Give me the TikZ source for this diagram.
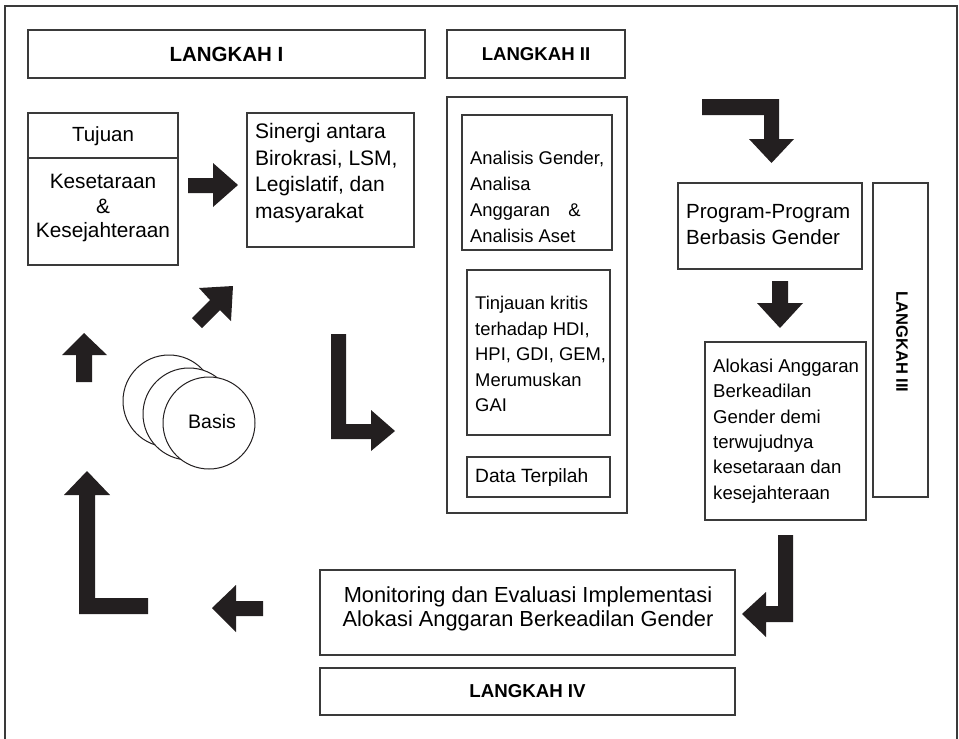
\documentclass[tikz,border=0pt]{standalone}
\usepackage{fontspec}
\setmainfont{Liberation Sans}
\definecolor{ink}{HTML}{231F20}
\definecolor{frame}{HTML}{3A3A3A}
\newcommand\fs{\fontsize{19.5}{25.5}\selectfont}
\newcommand\fsz[2]{\fontsize{#1}{#2}\selectfont}
\newcommand\mkbox[5]{\node[box, minimum width={(#4-#2)*1pt}, minimum height={(#5-#3)*1pt}] (#1) at ({(#2+#4)/2},{(#3+#5)/2}) {};}
\tikzset{
  box/.style={draw=frame, line width=1.3pt, inner sep=0pt, outer sep=0pt, fill=white},
  txt/.style={inner sep=0pt, align=left, anchor=west},
  ctxt/.style={inner sep=0pt, align=center},
  head/.style={inner sep=0pt},
  arr/.style={fill=ink, draw=none},
  disc/.style={circle, draw=ink, line width=1pt, fill=white, minimum size=92pt, inner sep=0pt},
}
\begin{document}
\begin{tikzpicture}[x=1pt,y=-1pt]
\useasboundingbox (0,0) rectangle (959,739);
\draw[frame, line width=1.3pt] (5,6) rectangle (957,742);

% boxes
\mkbox{l1}{28}{30}{425}{78}
\mkbox{l2}{447}{30}{625}{78}
\mkbox{col}{447}{97}{627}{513}
\mkbox{tuj}{28}{113}{178}{265}
\draw[frame, line width=1.3pt] (28,158) -- (178,158);
\mkbox{sin}{247}{113}{414}{247}
\mkbox{ana}{462}{115}{612}{250}
\mkbox{tin}{467}{270}{610}{435}
\mkbox{dat}{467}{457}{610}{497}
\mkbox{prg}{678}{183}{862}{269}
\mkbox{l3}{873}{183}{928}{497}
\mkbox{alo}{705}{342}{866}{520}
\mkbox{mon}{320}{570}{735}{655}
\mkbox{l4}{320}{668}{735}{715}

% texts
\node[head, font=\fsz{20.5}{25}\bfseries] (t1) at (l1) {LANGKAH I};
\node[head, font=\fsz{18.6}{25}\bfseries] (t2) at (l2) {LANGKAH II};
\node[head, font=\fsz{16.5}{25}\bfseries, rotate=-90] (t3) at (902,342) {LANGKAH III};
\node[head, font=\fsz{18.7}{25}\bfseries] (t4) at (l4) {LANGKAH IV};
\node[ctxt, font=\fsz{20.5}{24.5}] (ttuj) at (103,136) {Tujuan};
\node[ctxt, font=\fsz{20.8}{24.5}] (tkes) at (103,208) {Kesetaraan\\\&\\Kesejahteraan};
\node[txt, font=\fsz{21}{26.5}] (tsin) at (255,173) {Sinergi antara\\Birokrasi, LSM,\\Legislatif, dan\\masyarakat};
\node[txt, font=\fsz{18.4}{25.8}] (tana) at (470,197) {Analisis Gender,\\Analisa\\Anggaran\quad\&\\Analisis Aset};
\node[txt, font=\fsz{18.4}{25.5}] (ttin) at (475,354) {Tinjauan kritis\\terhadap HDI,\\HPI, GDI, GEM,\\Merumuskan\\GAI};
\node[txt, font=\fsz{19.2}{25}] (tdat) at (475,478) {Data Terpilah};
\node[txt, font=\fsz{20.5}{26}] (tprg) at (686,225) {Program-Program\\Berbasis Gender};
\node[txt, font=\fsz{18.6}{25.4}] (talo) at (713,431) {Alokasi Anggaran\\Berkeadilan\\Gender demi\\terwujudnya\\kesetaraan dan\\kesejahteraan};
\node[ctxt, font=\fsz{21.8}{23.5}] (tmon) at (528,609) {Monitoring dan Evaluasi Implementasi\\Alokasi Anggaran Berkeadilan Gender};

% discs
\node[disc] (c1) at (169,401) {};
\node[disc] (c2) at (189,414) {};
\node[disc] (c3) at (209,423) {};
\node[font=\fs, inner sep=0pt] (basis) at (212,422) {Basis};

% block arrows
\fill[arr] (188,178) -- (213,178) -- (213,163) -- (238,185) -- (213,207) -- (213,193) -- (188,193) -- cycle;
\fill[arr] (233,286) -- (231,321) -- (220,310) -- (202,328) -- (192,318) -- (210,300) -- (199,288) -- cycle;
\fill[arr] (84,333) -- (107,355) -- (92,355) -- (92,382) -- (76,382) -- (76,355) -- (62,355) -- cycle;
\fill[arr] (87,471) -- (110,495) -- (95,495) -- (95,598) -- (148,598) -- (148,614) -- (79,614) -- (79,495) -- (64,495) -- cycle;
\fill[arr] (212,608) -- (236,585) -- (236,601) -- (263,601) -- (263,616) -- (236,616) -- (236,632) -- cycle;
\fill[arr] (793,535) -- (793,622) -- (766,622) -- (766,637) -- (742,614) -- (766,592) -- (766,606) -- (778,606) -- (778,535) -- cycle;
\fill[arr] (702,99) -- (779,99) -- (779,139) -- (794,139) -- (771.5,163) -- (749,139) -- (764,139) -- (764,115) -- (702,115) -- cycle;
\fill[arr] (331,334) -- (346,334) -- (346,424) -- (371,424) -- (371,410) -- (395,431) -- (371,451) -- (371,439) -- (331,439) -- cycle;
\fill[arr] (772,281) -- (788,281) -- (788,303) -- (803,303) -- (780,328) -- (757,303) -- (772,303) -- cycle;
\end{tikzpicture}
\end{document}
